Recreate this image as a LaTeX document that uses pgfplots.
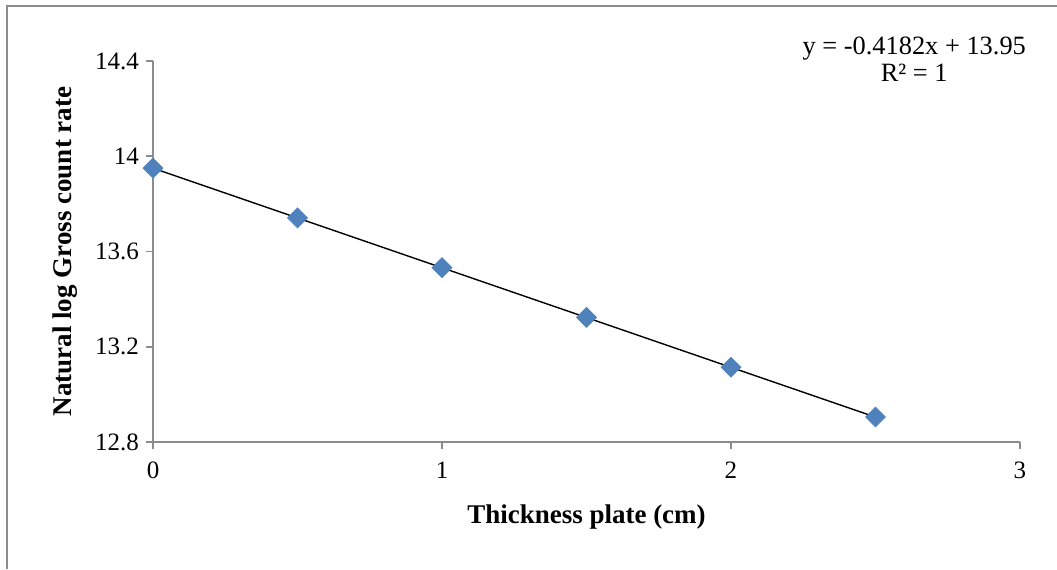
\documentclass[border=0pt]{standalone}
\usepackage{pgfplots}
\pgfplotsset{compat=1.18}
\usepackage{fontspec}
\setmainfont{Liberation Serif}
\definecolor{mk}{HTML}{4F81BD}
\definecolor{ax}{HTML}{8C8C8C}
\begin{document}
\begin{tikzpicture}
\useasboundingbox (0,0) rectangle (528.5pt,284.5pt);
\draw[ax, line width=1pt] (3.5pt,0) -- (3.5pt,281.5pt) -- (528.5pt,281.5pt);
\begin{axis}[
  at={(76.5pt,63.5pt)}, anchor=south west,
  scale only axis, width=433.5pt, height=190.5pt,
  xmin=0, xmax=3, ymin=12.8, ymax=14.4,
  axis x line=bottom, axis y line=left,
  axis line style={ax, line width=0.8pt, -},
  every tick/.style={ax, line width=0.8pt},
  tick align=outside, major tick length=3.5pt,
  xtick={0,1,2,3}, ytick={12.8,13.2,13.6,14,14.4},
  /pgf/number format/assume math mode=true,
  yticklabel style={/pgf/number format/fixed, /pgf/number format/precision=1, font=\fontsize{12.5}{14}\selectfont},
  xticklabel style={font=\fontsize{12.5}{14}\selectfont, yshift=-3pt},
  xlabel={Thickness plate (cm)}, ylabel={Natural log Gross count rate},
  label style={font=\fontsize{13.5}{15}\selectfont\bfseries},
  xlabel style={at={(axis description cs:0.5,-0.197)}, anchor=center},
  ylabel style={at={(axis description cs:-0.1015,0.5)}, anchor=center},
  clip=false,
]
\addplot[only marks, mark=square*, mark size=3.5pt, mark options={rotate=45, fill=mk, draw=mk}] coordinates {
(0,13.950) (0.5,13.741) (1,13.532) (1.5,13.323) (2,13.114) (2.5,12.905)
};
\addplot[black, line width=0.7pt] coordinates {(0,13.95) (2.5,12.9045)};
\node[align=center, font=\fontsize{13.2}{13.5}\selectfont] at (rel axis cs:0.878,1.005) {y = -0.4182x + 13.95\\R² = 1};
\end{axis}
\end{tikzpicture}
\end{document}
